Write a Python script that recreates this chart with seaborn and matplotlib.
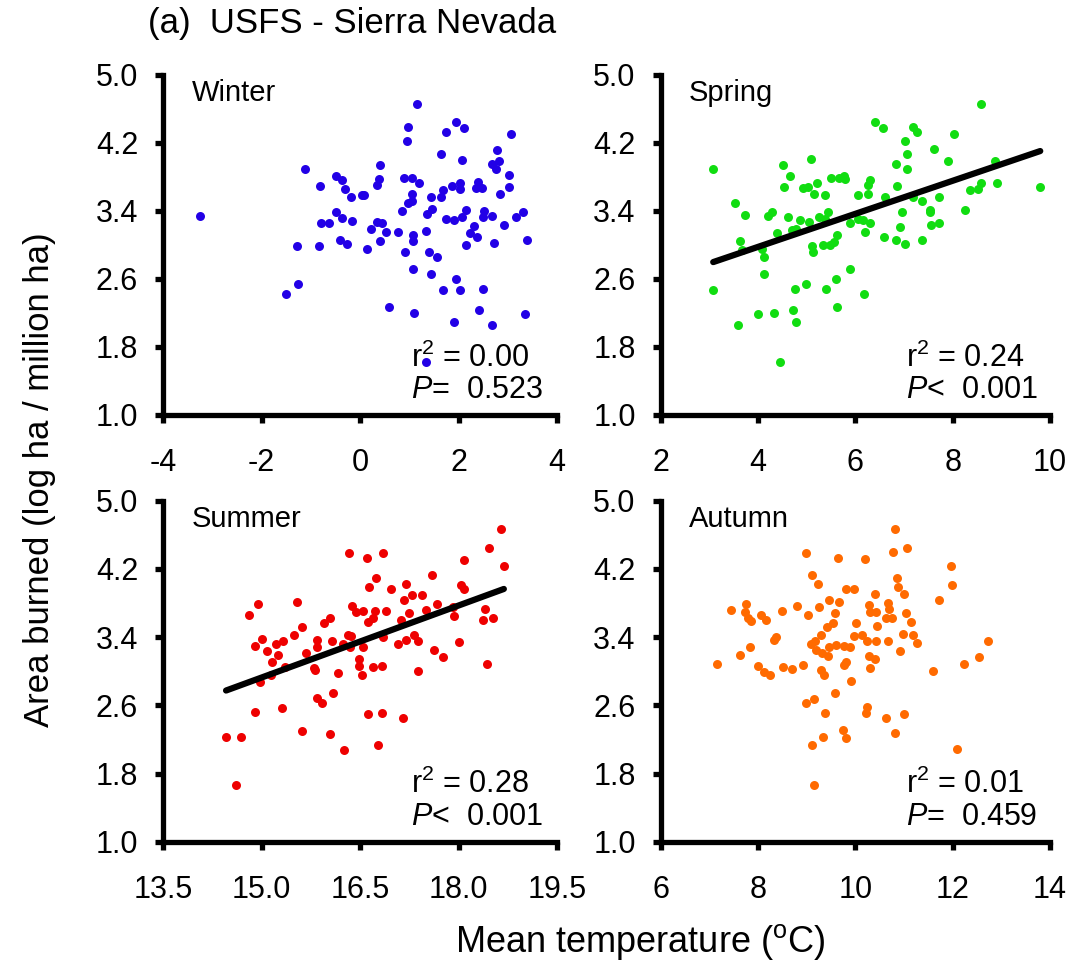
"""
Seasonal mean temperature vs. area burned, USFS Sierra Nevada (panel a).
Four scatter panels with OLS fits where the relationship is significant.
"""

import numpy as np
import pandas as pd
import matplotlib
matplotlib.use("Agg")
import matplotlib.pyplot as plt
import seaborn as sns

# ---- data --------------------------------------------------------------------
winter_temp = [-3.24, 1.15, 0.98, 0.96, 1.95, 2.12, 1.74, 3.06, 1.64, 2.08, 2.79, 2.67, 2.83,
               2.77, 3.02, 3.03, 2.85, -1.11, 0.41, -0.49, -0.37, -0.81, -0.31, 0.38, 0.34,
               -0.18, 0.03, 0.09, 0.89, 1.05, 1.19, 1.06, 0.98, 1.06, 0.86, 1.44, 1.64, 1.69,
               1.86, 2.03, 2.03, 2.39, 2.47, 2.36, 1.46, 1.36, 2.15, 2.08, 1.74, 1.90, 2.51,
               2.49, 2.68, 3.31, 3.17, 2.93, 2.32, 2.24, 2.37, 3.40, 2.71, 2.16, -0.49, -0.37,
               -0.17, -0.80, -0.64, 0.35, 0.45, 0.23, 0.52, 0.77, 1.34, 1.07, 1.08, 0.41, -0.41,
               -0.26, -1.27, -0.83, 0.14, 0.92, 1.41, 1.56, 1.07, 1.44, 1.95, 1.69, 2.02, 2.49,
               -1.25, -1.51, 0.58, 1.10, 2.41, 3.35, 1.90, 2.68, 1.34]
winter_area = [3.34, 4.66, 4.38, 4.22, 4.44, 4.37, 4.32, 4.30, 4.07, 4.00, 4.11, 3.95, 3.98,
               3.89, 3.82, 3.68, 3.60, 3.89, 3.94, 3.81, 3.76, 3.69, 3.66, 3.77, 3.70, 3.56,
               3.59, 3.58, 3.79, 3.78, 3.73, 3.60, 3.49, 3.51, 3.40, 3.56, 3.56, 3.64, 3.69,
               3.72, 3.65, 3.74, 3.67, 3.67, 3.42, 3.36, 3.41, 3.33, 3.30, 3.29, 3.40, 3.33,
               3.34, 3.39, 3.33, 3.23, 3.22, 3.14, 3.09, 3.05, 3.02, 3.00, 3.39, 3.31, 3.28,
               3.26, 3.25, 3.27, 3.25, 3.18, 3.15, 3.15, 3.16, 3.12, 3.04, 3.04, 3.05, 3.01,
               2.98, 2.98, 2.95, 2.92, 2.92, 2.85, 2.71, 2.66, 2.60, 2.47, 2.47, 2.48, 2.54,
               2.42, 2.27, 2.20, 2.23, 2.19, 2.09, 2.05, 1.62]

spring_temp = [3.08, 8.58, 6.40, 6.57, 7.19, 7.27, 7.02, 8.02, 7.07, 7.62, 7.90, 6.83, 7.06,
               8.88, 5.08, 4.52, 4.66, 4.53, 4.92, 5.03, 5.21, 5.16, 5.38, 5.51, 5.66, 5.77,
               5.78, 6.30, 6.27, 6.27, 6.05, 6.86, 6.62, 7.19, 7.38, 7.72, 7.53, 7.53, 6.95,
               8.36, 8.53, 8.59, 8.92, 9.80, 8.25, 7.72, 7.55, 6.92, 7.37, 7.03, 6.84, 6.58,
               6.20, 6.30, 6.15, 6.05, 5.90, 3.53, 3.73, 4.21, 4.29, 4.62, 4.86, 5.05, 5.25,
               5.43, 5.37, 4.69, 4.79, 4.40, 3.63, 3.68, 4.08, 4.12, 5.62, 5.56, 5.48, 5.33,
               5.12, 5.14, 4.12, 5.90, 5.60, 3.08, 4.77, 4.98, 5.40, 6.18, 4.01, 4.32, 4.72,
               4.79, 5.62, 3.58, 4.45]
spring_area = [3.89, 4.66, 4.44, 4.37, 4.39, 4.32, 4.22, 4.30, 4.07, 4.12, 3.99, 3.95, 3.89,
               3.98, 4.01, 3.94, 3.81, 3.68, 3.67, 3.68, 3.73, 3.60, 3.59, 3.78, 3.79, 3.81,
               3.77, 3.76, 3.70, 3.60, 3.58, 3.69, 3.56, 3.56, 3.51, 3.56, 3.41, 3.38, 3.38,
               3.64, 3.66, 3.72, 3.72, 3.68, 3.41, 3.25, 3.23, 3.21, 3.05, 3.01, 3.05, 3.09,
               3.15, 3.25, 3.29, 3.30, 3.26, 3.49, 3.35, 3.34, 3.38, 3.33, 3.29, 3.27, 3.33,
               3.39, 3.30, 3.17, 3.19, 3.14, 3.04, 2.94, 2.95, 2.85, 3.12, 3.03, 3.00, 3.00,
               2.99, 2.92, 2.66, 2.71, 2.60, 2.47, 2.48, 2.54, 2.48, 2.42, 2.19, 2.20, 2.23,
               2.09, 2.27, 2.05, 1.62]

summer_temp = [18.64, 16.33, 16.60, 16.85, 18.47, 18.09, 18.69, 17.60, 16.74, 16.64, 16.97,
               17.20, 18.03, 18.08, 17.29, 17.45, 17.17, 17.67, 14.95, 14.81, 15.54, 16.38,
               16.44, 16.54, 16.73, 16.89, 17.24, 17.51, 17.92, 17.93, 18.40, 18.38, 18.52,
               16.05, 15.95, 15.61, 16.62, 16.70, 17.13, 15.50, 15.00, 14.90, 15.09, 15.22,
               15.32, 15.25, 15.16, 15.68, 15.84, 15.85, 16.08, 16.24, 16.31, 16.37, 16.35,
               16.54, 16.85, 17.08, 17.20, 17.32, 17.38, 17.62, 17.76, 18.00, 18.44, 15.35,
               15.80, 15.81, 16.17, 16.48, 16.48, 16.53, 16.70, 16.83, 17.38, 14.97, 15.15,
               15.85, 15.92, 16.09, 14.90, 15.31, 16.62, 16.83, 17.15, 14.46, 14.68, 15.62,
               16.04, 16.26, 16.77, 14.61]
summer_area = [4.67, 4.39, 4.33, 4.39, 4.45, 4.31, 4.23, 4.13, 4.09, 3.99, 3.96, 4.02, 4.01,
               3.96, 3.90, 3.90, 3.83, 3.79, 3.79, 3.66, 3.81, 3.77, 3.69, 3.71, 3.71, 3.71,
               3.68, 3.72, 3.75, 3.65, 3.73, 3.60, 3.62, 3.62, 3.57, 3.52, 3.58, 3.63, 3.60,
               3.42, 3.38, 3.30, 3.24, 3.32, 3.35, 3.19, 3.11, 3.21, 3.37, 3.29, 3.36, 3.32,
               3.43, 3.41, 3.29, 3.28, 3.40, 3.32, 3.37, 3.43, 3.36, 3.25, 3.17, 3.34, 3.08,
               3.05, 3.04, 3.01, 2.98, 3.14, 3.06, 2.96, 3.05, 3.06, 3.00, 2.87, 2.95, 2.69,
               2.63, 2.74, 2.52, 2.57, 2.50, 2.51, 2.45, 2.23, 2.23, 2.30, 2.26, 2.08, 2.13,
               1.66]

autumn_temp = [10.81, 8.99, 9.64, 10.20, 10.78, 11.07, 11.96, 9.11, 9.24, 10.85, 10.88, 11.00,
               11.98, 9.80, 9.98, 10.41, 11.73, 9.46, 9.66, 10.28, 10.68, 10.69, 10.31, 10.43,
               9.25, 9.59, 8.81, 9.02, 8.49, 7.76, 7.45, 7.73, 7.79, 7.86, 8.07, 8.17, 9.54,
               9.41, 10.02, 10.45, 10.64, 10.76, 11.04, 11.14, 10.98, 11.19, 11.26, 10.68,
               10.42, 10.23, 10.14, 9.97, 9.29, 9.18, 9.09, 9.19, 9.46, 9.61, 9.76, 9.90, 9.31,
               9.44, 8.36, 8.33, 7.83, 7.64, 7.15, 8.00, 8.12, 8.24, 8.52, 8.69, 8.93, 9.29,
               9.35, 9.80, 9.76, 9.91, 10.29, 10.40, 10.31, 10.91, 11.59, 12.24, 12.55, 12.73,
               8.99, 9.15, 9.58, 9.37, 10.25, 10.21, 10.63, 11.01, 9.33, 9.11, 9.74, 9.81,
               10.81, 12.09, 9.15]
autumn_area = [4.67, 4.39, 4.33, 4.32, 4.40, 4.44, 4.23, 4.13, 4.02, 4.09, 3.99, 3.91, 4.01,
               3.96, 3.96, 3.91, 3.84, 3.83, 3.81, 3.78, 3.80, 3.73, 3.70, 3.70, 3.75, 3.68,
               3.76, 3.66, 3.71, 3.79, 3.72, 3.69, 3.63, 3.59, 3.66, 3.60, 3.57, 3.52, 3.57,
               3.53, 3.62, 3.62, 3.68, 3.58, 3.44, 3.42, 3.33, 3.36, 3.36, 3.36, 3.43, 3.41,
               3.42, 3.35, 3.32, 3.25, 3.29, 3.31, 3.30, 3.28, 3.21, 3.18, 3.40, 3.37, 3.28,
               3.19, 3.08, 3.06, 2.99, 2.95, 3.05, 3.03, 3.07, 3.01, 2.95, 3.11, 3.07, 2.88,
               3.18, 3.14, 3.04, 3.24, 3.00, 3.08, 3.17, 3.35, 2.63, 2.68, 2.74, 2.51, 2.58,
               2.51, 2.45, 2.50, 2.23, 2.13, 2.31, 2.22, 2.27, 2.09, 1.66]

seasons = ["Winter", "Spring", "Summer", "Autumn"]
r2_values = ["0.00", "0.24", "0.28", "0.01"]
p_values = ["=  0.523", "<  0.001", "<  0.001", "=  0.459"]
significant = [False, True, True, False]
x_ticks = [[-4, -2, 0, 2, 4], [2, 4, 6, 8, 10], [13.5, 15.0, 16.5, 18.0, 19.5], [6, 8, 10, 12, 14]]
x_ticklabels = [["-4", "-2", "0", "2", "4"], ["2", "4", "6", "8", "10"],
                ["13.5", "15.0", "16.5", "18.0", "19.5"], ["6", "8", "10", "12", "14"]]
y_ticks = [1.0, 1.8, 2.6, 3.4, 4.2, 5.0]
colors = ["#2200e6", "#11dd11", "#ee0000", "#ff6a00"]

temps = [winter_temp, spring_temp, summer_temp, autumn_temp]
areas = [winter_area, spring_area, summer_area, autumn_area]

df = pd.concat([pd.DataFrame({"season": s, "temp": t, "area": a})
                for s, t, a in zip(seasons, temps, areas)], ignore_index=True)

# ---- style -------------------------------------------------------------------
sns.set_style("ticks")
plt.rcParams["font.family"] = ["Liberation Sans", "DejaVu Sans"]
plt.rcParams["mathtext.fontset"] = "custom"
plt.rcParams["mathtext.rm"] = "Liberation Sans"
plt.rcParams["mathtext.it"] = "Liberation Sans:italic"
for key in ["text.color", "axes.edgecolor", "axes.labelcolor", "xtick.color", "ytick.color"]:
    plt.rcParams[key] = "black"

fig = plt.figure(figsize=(10.76, 9.6), dpi=100)
positions = [[0.1515, 0.568, 0.3662, 0.3542], [0.614, 0.568, 0.3618, 0.3542],
             [0.1515, 0.1232, 0.3662, 0.3552], [0.614, 0.1232, 0.3618, 0.3552]]

for i, season in enumerate(seasons):
    ax = fig.add_axes(positions[i])
    sub = df[df["season"] == season]
    sns.scatterplot(data=sub, x="temp", y="area", color=colors[i], s=42,
                    linewidth=0, ax=ax, zorder=3)
    if significant[i]:
        sns.regplot(data=sub, x="temp", y="area", scatter=False, ci=None, ax=ax,
                    line_kws={"color": "black", "lw": 4.5, "zorder": 4})

    ax.set_xlim(x_ticks[i][0], x_ticks[i][-1])
    ax.set_ylim(1.0, 5.0)
    ax.set_xticks(x_ticks[i])
    ax.set_xticklabels(x_ticklabels[i])
    ax.set_yticks(y_ticks)
    ax.set_yticklabels([f"{v:.1f}" for v in y_ticks])
    ax.set_xlabel("")
    ax.set_ylabel("")

    for side in ["top", "right"]:
        ax.spines[side].set_visible(False)
    for side in ["left", "bottom"]:
        ax.spines[side].set_linewidth(3.8)
        ax.spines[side].set_capstyle("projecting")
    ax.tick_params(axis="both", direction="out", length=6, width=3.8, labelsize=22)
    ax.tick_params(axis="x", pad=18)
    ax.tick_params(axis="y", pad=12)

    ax.text(0.072, 0.945, season, transform=ax.transAxes, fontsize=21,
            ha="left", va="center")
    ax.text(0.63, 0.167, "r$^2$ = " + r2_values[i], transform=ax.transAxes,
            fontsize=22, ha="left", va="center", zorder=2)
    ax.text(0.63, 0.073, "$P$" + p_values[i], transform=ax.transAxes,
            fontsize=22, ha="left", va="center", zorder=2)

fig.text(0.1375, 0.976, "(a)  USFS - Sierra Nevada", fontsize=25, ha="left", va="center")
fig.text(0.037, 0.50, "Area burned (log ha / million ha)", fontsize=25,
         rotation=90, ha="center", va="center")
fig.text(0.595, 0.019, "Mean temperature ($^{\\mathrm{o}}$C)", fontsize=26,
         ha="center", va="center")

fig.savefig("out.png", dpi=100)
plt.close(fig)
